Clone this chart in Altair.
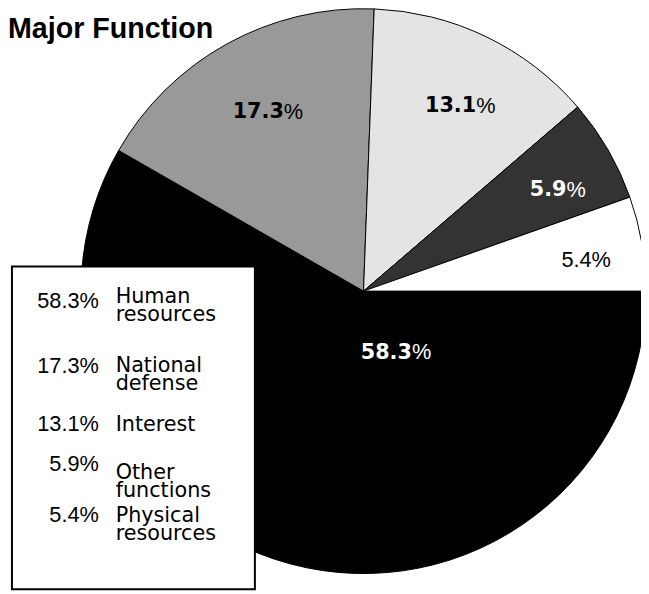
import math
import altair as alt
import pandas as pd

# ---- data ----
categories = ["Human resources", "National defense", "Interest", "Other functions", "Physical resources"]
legend_names = ["Human\nresources", "National\ndefense", "Interest", "Other\nfunctions", "Physical\nresources"]
shares = [58.3, 17.3, 13.1, 5.9, 5.4]
legend_rank = [0, 1, 2, 3, 4]
pie_order = [3, 4, 0, 1, 2]          # clockwise order of slices starting near 12 o'clock
title_lines = ["Cost", "Major Function"]

# ---- styles / layout ----
fill_colors = ["#000000", "#999999", "#e4e4e4", "#333333", "#ffffff"]
W, H = 641, 586
CX, CY, R = 360, 283, 286
pct_y = [300, 366, 425, 465, 517]      # legend percentage baselines
name_y = [295, 365, 425, 473, 517]     # legend name first-line baselines

df = pd.DataFrame({
    "category": categories,
    "legend_name": legend_names,
    "share": shares,
    "legend_rank": legend_rank,
    "pie_order": pie_order,
})

# the "Physical resources" slice ends exactly at 3 o'clock
before = sum(s for s, o in zip(shares, pie_order) if o <= pie_order[categories.index("Physical resources")])
start = math.pi / 2 - 2 * math.pi * before / sum(shares)

theta = alt.Theta("share:Q", stack=True, scale=alt.Scale(range=[start, start + 2 * math.pi]))
order = alt.Order("pie_order:Q", sort="ascending")
cx, cy = alt.value(CX), alt.value(CY)

base = alt.Chart(df)

arcs = base.mark_arc(radius=R, stroke="#000000", strokeWidth=1).encode(
    theta=theta, order=order, x=cx, y=cy,
    color=alt.Color("category:N", scale=alt.Scale(domain=categories, range=fill_colors), legend=None),
)

white_if_dark = alt.condition("datum.category === 'Other functions'", alt.value("#ffffff"), alt.value("#000000"))

lab = base.transform_calculate(
    num_bold="(datum.category === 'Physical resources' || datum.category === 'Human resources') ? '' : format(datum.share, '.1f')",
    num_reg="datum.category === 'Physical resources' ? format(datum.share, '.1f') : ''",
    pct_sign="datum.category === 'Human resources' ? '' : '%'",
)

LR, LDX, LDY = 212, 22, 4
num_bold = lab.mark_text(radius=LR, align="right", baseline="middle", dx=LDX, dy=LDY,
                         font="DejaVu Sans", fontWeight="bold", fontSize=21).encode(
    theta=theta, order=order, x=cx, y=cy, text="num_bold:N", color=white_if_dark)
num_reg = lab.mark_text(radius=LR, align="right", baseline="middle", dx=LDX, dy=LDY,
                        font="Liberation Sans", fontSize=22).encode(
    theta=theta, order=order, x=cx, y=cy, text="num_reg:N", color=white_if_dark)
pct_sign = lab.mark_text(radius=LR, align="left", baseline="middle", dx=LDX, dy=LDY,
                         font="Liberation Sans", fontSize=22).encode(
    theta=theta, order=order, x=cx, y=cy, text="pct_sign:N", color=white_if_dark)

big = base.transform_filter("datum.category === 'Human resources'").transform_calculate(
    num="format(datum.share, '.1f')")
big_num = big.mark_text(align="right", baseline="alphabetic", font="DejaVu Sans",
                        fontWeight="bold", fontSize=21, color="#ffffff").encode(
    x=alt.value(409), y=alt.value(352), text="num:N")
big_pct = big.mark_text(align="left", baseline="alphabetic", font="Liberation Sans",
                        fontSize=22, color="#ffffff").encode(
    x=alt.value(409), y=alt.value(352), text=alt.value("%"))

# legend box
box = alt.Chart(pd.DataFrame({"box": [0]})).mark_rect(
    fill="#ffffff", stroke="#000000", strokeWidth=2).encode(
    x=alt.value(4), x2=alt.value(250), y=alt.value(258), y2=alt.value(585))

leg = base.transform_calculate(pct="format(datum.share, '.1f') + '%'")
leg_pct = leg.mark_text(align="right", baseline="alphabetic", font="Liberation Sans",
                        fontSize=22, color="#000000").encode(
    x=alt.value(92),
    y=alt.Y("legend_rank:Q", scale=alt.Scale(domain=legend_rank, range=pct_y, zero=False, nice=False), axis=None),
    text="pct:N")
leg_name = base.mark_text(align="left", baseline="alphabetic", font="DejaVu Sans",
                          fontSize=21, color="#000000", lineBreak="\n", lineHeight=18).encode(
    x=alt.value(109),
    y=alt.Y("legend_rank:Q", scale=alt.Scale(domain=legend_rank, range=name_y, zero=False, nice=False), axis=None),
    text="legend_name:N")

title = alt.Chart(pd.DataFrame({"t": [0]})).mark_text(
    align="left", baseline="alphabetic", font="Liberation Sans", fontWeight="bold",
    fontSize=29, lineHeight=33, color="#000000").encode(
    x=alt.value(0), y=alt.value(-6), text=alt.value(title_lines))

chart = alt.layer(
    arcs, num_bold, num_reg, pct_sign, big_num, big_pct, box, leg_pct, leg_name, title
).resolve_scale(y="independent").properties(
    width=W, height=H, autosize=alt.AutoSizeParams(type="none"), padding=0
).configure_view(stroke=None)

chart.save("out.html", embed_options={"renderer": "svg", "actions": False})
